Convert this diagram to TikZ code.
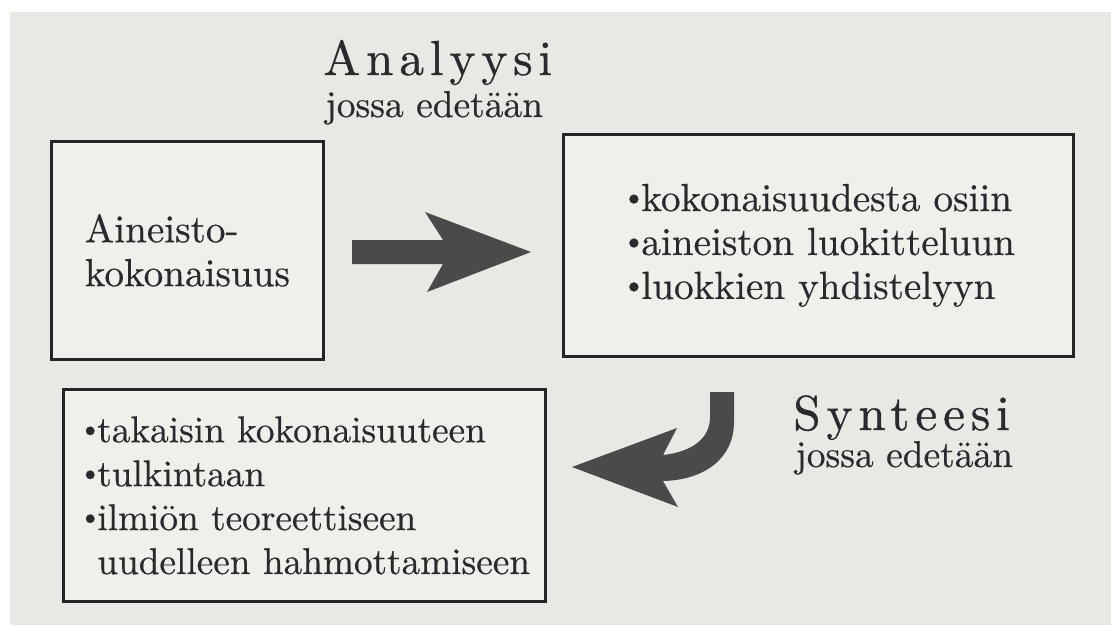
\documentclass[tikz,border=0pt]{standalone}
\usepackage{fontspec}
\usepackage{xcolor}
\usetikzlibrary{positioning}
\setmainfont{lmroman10-regular}[Extension=.otf, FakeBold=0.5]
\newfontfamily\headfamily{lmroman10-regular}[Extension=.otf, FakeBold=0.7, LetterSpace=12]
\definecolor{paper}{HTML}{E8E8E5}
\definecolor{sheet}{HTML}{EFEFEC}
\definecolor{ink}{HTML}{2A2A2A}
\definecolor{inkframe}{HTML}{242424}
\definecolor{arrowgray}{HTML}{4A4A4A}
\newcommand\boxfont{\fontsize{22.3}{25}\selectfont}
\newcommand\subfont{\fontsize{21.3}{23}\selectfont}
\newcommand\headfont{\headfamily\fontsize{28}{30}\selectfont}
\newcommand\bul{\raisebox{0.12em}{\scalebox{0.8}{\textbullet}}\kern-0.12em}

\begin{document}
\begin{tikzpicture}[x=0.02cm, y=-0.02cm, color=ink,
    frame/.style={draw=inkframe, fill=sheet, line width=1.6pt, anchor=north west,
      inner sep=0pt, align=left, font=\boxfont, text=ink},
    head/.style={anchor=base west, inner sep=0pt, font=\headfont},
    sub/.style={anchor=base west, inner sep=0pt, font=\subfont}]
    \useasboundingbox (0,0) rectangle (1111,625);
    % scanned page
    \fill[white] (0,0) rectangle (1111,625);
    \fill[paper] (10,12) rectangle (1111,625);
    % boxes
    \node[frame, minimum width=5.44cm, minimum height=4.36cm] (whole) at (50,140)
      {Aineisto-\\kokonaisuus};
    \node[frame, minimum width=10.2cm, minimum height=4.44cm] (parts) at (562,133)
      {\bul kokonaisuudesta osiin\\\bul aineiston luokitteluun\\\bul luokkien yhdistelyyn};
    \node[frame, minimum width=9.64cm, minimum height=4.24cm, font=\fontsize{21.2}{25}\selectfont] (back) at (62,388)
      {\bul takaisin kokonaisuuteen\\\bul tulkintaan\\\bul ilmiön teoreettiseen\\\phantom{\bul}uudelleen hahmottamiseen};
    % titles
    \node[head] (analyysi) at (323,75) {Analyysi};
    \node[sub] (analyysi-sub) at (325,117) {jossa edetään};
    \node[head] (synteesi) at (793,430) {Synteesi};
    \node[sub] (synteesi-sub) at (795,467) {jossa edetään};
    % block arrows
    \fill[arrowgray] (352,240) -- (443,240) -- (425,212) -- (531,252)
      -- (427,292) -- (443,264) -- (352,264) -- cycle;
    \fill[arrowgray] (710,392) -- (734,392) -- (734,422)
      .. controls (734,458) and (705,480) .. (663,481) -- (678,507) -- (572,467)
      -- (677,428) -- (663,455) .. controls (690,452) and (710,440) .. (710,417) -- cycle;
\end{tikzpicture}
\end{document}
